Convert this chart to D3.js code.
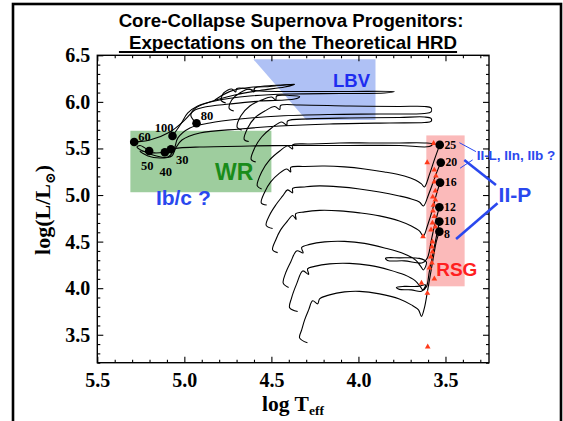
<!DOCTYPE html>
<html><head><meta charset="utf-8">
<script src="https://cdn.jsdelivr.net/npm/d3@7"></script>
<style>html,body{margin:0;padding:0;background:#fff;} svg{display:block;}</style>
</head><body><svg id="c" width="563" height="421"></svg>
<script>
// ---------------- DATA ----------------
const xTicks = [5.5, 5.0, 4.5, 4.0, 3.5];
const yTicks = [3.5, 4.0, 4.5, 5.0, 5.5, 6.0, 6.5];
const xDomain = [5.5, 3.25];
const yDomain = [3.2, 6.5];

// shaded regions (logT, logL)
const lbvPoly = [[4.604,6.457],[3.902,6.457],[3.902,5.806],[4.299,5.806]];
const wrLogT = [5.31, 4.50];
const wrLogL = [5.03, 5.69];
const rsgBoxLogT = [3.61, 3.39];
const rsgBoxLogL = [4.02, 5.64];

// evolutionary tracks [logTeff, logL]
const track8 = [[4.293,3.413],[4.338,3.467],[4.326,3.552],[4.309,3.660],[4.286,3.767],[4.263,3.864],[4.234,3.832],[4.223,3.885],[4.166,3.928],[4.080,3.960],[3.994,3.966],[3.879,3.939],[3.765,3.885],[3.696,3.821],[3.655,3.767],[3.638,3.697],[3.621,3.789],[3.604,3.960],[3.587,4.143],[3.570,4.325],[3.553,4.497],[3.535,4.607]];
const track10 = [[4.349,3.749],[4.395,3.789],[4.384,3.896],[4.355,4.046],[4.320,4.185],[4.286,4.148],[4.292,4.207],[4.252,4.234],[4.166,4.261],[4.051,4.266],[3.936,4.245],[3.822,4.196],[3.736,4.143],[3.673,4.078],[3.644,4.014],[3.630,3.982],[3.615,4.035],[3.661,4.019],[3.736,4.019],[3.782,4.008],[3.765,3.987],[3.696,3.982],[3.638,3.966],[3.610,4.014],[3.593,4.175],[3.570,4.389],[3.547,4.604],[3.535,4.715]];
const track12 = [[4.401,4.007],[4.432,4.054],[4.418,4.164],[4.389,4.282],[4.355,4.400],[4.318,4.379],[4.326,4.437],[4.280,4.470],[4.194,4.497],[4.080,4.502],[3.965,4.481],[3.850,4.432],[3.736,4.368],[3.673,4.304],[3.644,4.239],[3.627,4.196],[3.610,4.282],[3.650,4.320],[3.765,4.325],[3.844,4.322],[3.833,4.298],[3.736,4.293],[3.632,4.272],[3.604,4.325],[3.581,4.519],[3.558,4.711],[3.535,4.869]];
const track16 = [[4.464,4.382],[4.493,4.411],[4.475,4.518],[4.447,4.626],[4.407,4.722],[4.378,4.781],[4.358,4.738],[4.361,4.797],[4.309,4.819],[4.223,4.835],[4.108,4.830],[3.994,4.808],[3.879,4.776],[3.765,4.722],[3.696,4.668],[3.650,4.615],[3.627,4.561],[3.604,4.668],[3.575,4.840],[3.553,5.001],[3.531,5.133]];
const track20 = [[4.493,4.641],[4.530,4.674],[4.510,4.786],[4.475,4.893],[4.435,4.990],[4.407,5.055],[4.378,5.023],[4.378,5.071],[4.309,5.087],[4.223,5.098],[4.108,5.087],[3.994,5.065],[3.879,5.033],[3.765,4.990],[3.696,4.958],[3.650,4.926],[3.627,4.883],[3.598,5.001],[3.570,5.141],[3.547,5.259],[3.527,5.348]];
const track25 = [[4.527,4.893],[4.558,4.915],[4.538,5.033],[4.504,5.141],[4.458,5.227],[4.412,5.280],[4.389,5.248],[4.389,5.296],[4.309,5.307],[4.194,5.312],[4.080,5.302],[3.965,5.280],[3.850,5.248],[3.736,5.205],[3.673,5.162],[3.638,5.119],[3.621,5.087],[3.593,5.216],[3.564,5.377],[3.533,5.538]];
const track30 = [[4.556,5.065],[4.581,5.098],[4.556,5.248],[4.510,5.377],[4.452,5.473],[4.407,5.527],[4.378,5.495],[4.378,5.538],[4.280,5.548],[4.108,5.559],[3.936,5.559],[3.765,5.559],[3.621,5.559],[3.575,5.548],[3.593,5.521],[3.765,5.532],[4.051,5.532],[4.338,5.532],[4.624,5.527],[4.911,5.516],[5.026,5.506],[5.077,5.491]];
const track40 = [[4.590,5.355],[4.616,5.382],[4.596,5.506],[4.556,5.623],[4.499,5.720],[4.441,5.784],[4.412,5.752],[4.407,5.795],[4.280,5.817],[4.051,5.827],[3.765,5.833],[3.621,5.838],[3.583,5.822],[3.583,5.790],[3.621,5.779],[3.822,5.774],[4.166,5.763],[4.452,5.741],[4.682,5.709],[4.911,5.666],[5.014,5.591],[5.049,5.506],[5.072,5.419],[5.140,5.398],[5.209,5.419],[5.255,5.473],[5.169,5.452],[5.112,5.459]];
const track50 = [[4.630,5.575],[4.656,5.597],[4.636,5.720],[4.596,5.827],[4.538,5.902],[4.481,5.950],[4.452,5.918],[4.447,5.961],[4.338,5.967],[4.051,5.956],[3.765,5.951],[3.621,5.951],[3.583,5.935],[3.583,5.892],[3.621,5.876],[3.879,5.870],[4.166,5.865],[4.452,5.849],[4.682,5.816],[4.854,5.774],[4.968,5.720],[5.037,5.613],[5.060,5.484],[5.094,5.409],[5.198,5.441],[5.272,5.516],[5.255,5.532],[5.202,5.473]];
const track60 = [[4.670,5.698],[4.696,5.725],[4.676,5.849],[4.624,5.956],[4.556,6.020],[4.499,6.052],[4.475,6.020],[4.470,6.063],[4.395,6.069],[4.338,6.056],[4.367,6.031],[4.567,6.009],[4.739,5.977],[4.882,5.945],[4.940,5.913],[4.997,5.806],[5.083,5.677],[5.198,5.591],[5.288,5.570]];
const track80 = [[4.716,5.902],[4.742,5.929],[4.728,6.020],[4.682,6.096],[4.624,6.138],[4.601,6.106],[4.596,6.149],[4.510,6.165],[4.424,6.181],[4.367,6.187],[4.424,6.160],[4.567,6.122],[4.710,6.074],[4.854,5.999],[4.934,5.935],[4.963,5.860],[4.930,5.770]];
const track100 = [[4.762,5.988],[4.788,6.015],[4.774,6.096],[4.728,6.138],[4.705,6.106],[4.699,6.144],[4.567,6.117],[4.338,6.112],[4.051,6.112],[3.793,6.110],[3.850,6.095],[4.108,6.090],[4.395,6.085],[4.624,6.063],[4.825,6.009],[4.923,5.956],[4.980,5.881],[5.020,5.763],[5.068,5.634]];
const track120 = [[4.825,6.020],[4.790,6.063],[4.740,6.110],[4.680,6.140],[4.600,6.160],[4.500,6.175],[4.367,6.190]];
const tracks = [track8, track10, track12, track16, track20, track25, track30, track40, track50, track60, track80, track100, track120];

// end points (black dots)
const rsgMasses = [25, 20, 16, 12, 10, 8];
const rsgLogT = [3.533, 3.527, 3.531, 3.535, 3.535, 3.535];
const rsgLogL = [5.538, 5.348, 5.133, 4.869, 4.715, 4.607];
const wrMasses = [60, 50, 40, 30, 100, 80];
const wrDotLogT = [5.288, 5.202, 5.112, 5.077, 5.068, 4.930];
const wrDotLogL = [5.570, 5.473, 5.459, 5.491, 5.634, 5.770];

// observed RSG progenitors (red triangles)
const obsLogT = [3.568,3.605,3.564,3.555,3.564,3.558,3.573,3.558,3.569,3.572,3.564,3.575,3.558,3.583,3.629,3.575,3.578,3.575,3.584,3.578,3.592,3.564,3.638,3.604,3.602];
const obsLogL = [5.556,5.348,5.269,5.205,5.141,5.044,4.979,4.947,4.893,4.829,4.770,4.700,4.657,4.626,4.554,4.497,4.443,4.389,4.336,4.271,4.218,4.100,4.054,3.946,3.370];

// ---------------- DRAW ----------------
const svg = d3.select("#c");
const x = d3.scaleLinear().domain(xDomain).range([97.3, 489]);
const y = d3.scaleLinear().domain(yDomain).range([362.7, 55.3]);
const SERIF = "'Liberation Serif','Times New Roman',serif";
const SANS = "'Liberation Sans',Arial,sans-serif";

// outer frame
svg.append("rect").attr("x",13).attr("y",4).attr("width",548).attr("height",450)
  .attr("fill","none").attr("stroke","#000").attr("stroke-width",2.6);

// title
svg.append("text").attr("x",291).attr("y",26.7).attr("text-anchor","middle")
  .attr("font-family",SANS).attr("font-weight","bold").attr("font-size",18.7)
  .text("Core-Collapse Supernova Progenitors:");
const t2 = svg.append("text").attr("x",293).attr("y",49.4).attr("text-anchor","middle")
  .attr("font-family",SANS).attr("font-weight","bold").attr("font-size",18.7)
  .text("Expectations on the Theoretical HRD");
const bb = t2.node().getBBox();
svg.append("line").attr("x1",bb.x-10).attr("x2",bb.x+bb.width).attr("y1",52).attr("y2",52)
  .attr("stroke","#000").attr("stroke-width",1.8);

// regions
svg.append("path").datum(lbvPoly)
  .attr("d", d3.line().x(d=>x(d[0])).y(d=>y(d[1])).curve(d3.curveLinearClosed))
  .attr("fill","#afc1f5");
svg.append("rect").attr("x",x(wrLogT[0])).attr("y",y(wrLogL[1]))
  .attr("width",x(wrLogT[1])-x(wrLogT[0])).attr("height",y(wrLogL[0])-y(wrLogL[1]))
  .attr("fill","#9ecd9e");
svg.append("rect").attr("x",x(rsgBoxLogT[0])).attr("y",y(rsgBoxLogL[1]))
  .attr("width",x(rsgBoxLogT[1])-x(rsgBoxLogT[0])).attr("height",y(rsgBoxLogL[0])-y(rsgBoxLogL[1]))
  .attr("fill","#fbbaba");

// axes
const fmt = d3.format(".1f");
const isMajor = v => Math.abs(v*2 - Math.round(v*2)) < 1e-6;
const xMinor = x.ticks(23).filter(v => !isMajor(v));
const yMinor = y.ticks(34).filter(v => !isMajor(v));
const [X0, X1] = x.range();
const [Y0, Y1] = y.range();

function styleAxis(g){
  g.select(".domain").remove();
  g.selectAll("line").attr("stroke","#000").attr("stroke-width",1.1);
  g.selectAll("text").attr("font-family",SERIF).attr("font-weight","bold").attr("font-size",20).attr("fill","#000");
}
svg.append("g").attr("transform",`translate(0,${Y0})`)
  .call(d3.axisBottom(x).tickValues(xTicks).tickFormat(fmt).tickSizeInner(-6).tickSizeOuter(0).tickPadding(10)).call(styleAxis);
svg.append("g").attr("transform",`translate(0,${Y0})`)
  .call(d3.axisBottom(x).tickValues(xMinor).tickFormat("").tickSizeInner(-3).tickSizeOuter(0)).call(styleAxis);
svg.append("g").attr("transform",`translate(0,${Y1})`)
  .call(d3.axisTop(x).tickValues(xTicks).tickFormat("").tickSizeInner(-6).tickSizeOuter(0)).call(styleAxis);
svg.append("g").attr("transform",`translate(0,${Y1})`)
  .call(d3.axisTop(x).tickValues(xMinor).tickFormat("").tickSizeInner(-3).tickSizeOuter(0)).call(styleAxis);
svg.append("g").attr("transform",`translate(${X0},0)`)
  .call(d3.axisLeft(y).tickValues(yTicks).tickFormat(fmt).tickSizeInner(-6).tickSizeOuter(0).tickPadding(7)).call(styleAxis);
svg.append("g").attr("transform",`translate(${X0},0)`)
  .call(d3.axisLeft(y).tickValues(yMinor).tickFormat("").tickSizeInner(-3).tickSizeOuter(0)).call(styleAxis);
svg.append("g").attr("transform",`translate(${X1},0)`)
  .call(d3.axisRight(y).tickValues(yTicks).tickFormat("").tickSizeInner(-6).tickSizeOuter(0)).call(styleAxis);
svg.append("g").attr("transform",`translate(${X1},0)`)
  .call(d3.axisRight(y).tickValues(yMinor).tickFormat("").tickSizeInner(-3).tickSizeOuter(0)).call(styleAxis);
svg.append("rect").attr("x",X0).attr("y",Y1).attr("width",X1-X0).attr("height",Y0-Y1)
  .attr("fill","none").attr("stroke","#000").attr("stroke-width",1.4);

// axis titles
const xl = svg.append("text").attr("x",293).attr("y",410.5).attr("text-anchor","middle")
  .attr("font-family",SERIF).attr("font-weight","bold").attr("font-size",21.5);
xl.append("tspan").text("log T");
xl.append("tspan").attr("font-size",13.5).attr("dy",4.5).text("eff");
const yl = svg.append("text").attr("transform","translate(50,210) rotate(-90)").attr("text-anchor","middle")
  .attr("font-family",SERIF).attr("font-weight","bold").attr("font-size",22);
yl.append("tspan").text("log(L/L");
yl.append("tspan").attr("font-size",14).attr("dy",5).attr("font-family","'DejaVu Serif',serif").text("\u2299");
yl.append("tspan").attr("dy",-5).text(")");

// tracks
const line = d3.line().x(d=>x(d[0])).y(d=>y(d[1])).curve(d3.curveCatmullRom.alpha(0.5));
svg.append("g").selectAll("path").data(tracks).join("path")
  .attr("d", line).attr("fill","none").attr("stroke","#000").attr("stroke-width",1.1).attr("stroke-linejoin","round");

// observed triangles
svg.append("g").selectAll("path").data(obsLogT.map((t,i)=>[t,obsLogL[i]])).join("path")
  .attr("transform", d=>`translate(${x(d[0])},${y(d[1])})`)
  .attr("d", d3.symbol(d3.symbolTriangle, 14)).attr("fill","#ff3a1a");

// end-point dots
const rsgDots = rsgMasses.map((m,i)=>({m, t:rsgLogT[i], l:rsgLogL[i]}));
const wrDots = wrMasses.map((m,i)=>({m, t:wrDotLogT[i], l:wrDotLogL[i]}));
const dotG = svg.append("g");
dotG.selectAll("circle").data(rsgDots.concat(wrDots)).join("circle")
  .attr("cx", d=>x(d.t)).attr("cy", d=>y(d.l)).attr("r",4.3).attr("fill","#000");
const rsgDy = {25:3.8, 20:3.8, 16:3.8, 12:3.8, 10:3.0, 8:6.0};
dotG.selectAll("text.r").data(rsgDots).join("text").attr("class","r")
  .attr("x", d=>x(d.t)+4.7).attr("y", d=>y(d.l)+rsgDy[d.m])
  .attr("font-family",SERIF).attr("font-weight","bold").attr("font-size",11.8).text(d=>d.m);
const wrLab = {60:[4,-0.5,"start"],50:[-2,19,"middle"],40:[1,23.5,"middle"],30:[5,14.5,"start"],100:[1,-3.5,"end"],80:[4.3,-3.3,"start"]};
dotG.selectAll("text.w").data(wrDots).join("text").attr("class","w")
  .attr("x", d=>x(d.t)+wrLab[d.m][0]).attr("y", d=>y(d.l)+wrLab[d.m][1])
  .attr("text-anchor", d=>wrLab[d.m][2])
  .attr("font-family",SERIF).attr("font-weight","bold").attr("font-size",12.5).text(d=>d.m);

// annotations
const BLUE = "#2a48ee";
const labels = [
  {t:4.040, l:6.160, s:"LBV", c:"#1e2df0", f:18.5, a:"middle"},
  {t:4.714, l:5.162, s:"WR", c:"#1a8c1a", f:23, a:"middle"},
  {t:5.006, l:4.894, s:"Ib/c ?", c:BLUE, f:21, a:"middle"},
  {t:3.435, l:4.132, s:"RSG", c:"#ff2020", f:19, a:"middle"},
  {t:3.321, l:5.377, s:"II-L, IIn, IIb ?", c:BLUE, f:13.5, a:"start"},
  {t:3.195, l:4.929, s:"II-P", c:BLUE, f:21, a:"start"}
];
svg.append("g").selectAll("text").data(labels).join("text")
  .attr("x", d=>x(d.t)).attr("y", d=>y(d.l)).attr("text-anchor", d=>d.a)
  .attr("font-family",SANS).attr("font-weight","bold").attr("font-size", d=>d.f)
  .attr("fill", d=>d.c).text(d=>d.s);
const pointers = [
  {a:[3.420,5.562], b:[3.325,5.466], w:1},
  {a:[3.416,5.288], b:[3.344,5.377], w:1},
  {a:[3.392,5.377], b:[3.210,5.108], w:2.6},
  {a:[3.439,4.529], b:[3.201,4.912], w:2.6}
];
svg.append("g").selectAll("line").data(pointers).join("line")
  .attr("x1", d=>x(d.a[0])).attr("y1", d=>y(d.a[1])).attr("x2", d=>x(d.b[0])).attr("y2", d=>y(d.b[1]))
  .attr("stroke", BLUE).attr("stroke-width", d=>d.w);
</script>
</body></html>
